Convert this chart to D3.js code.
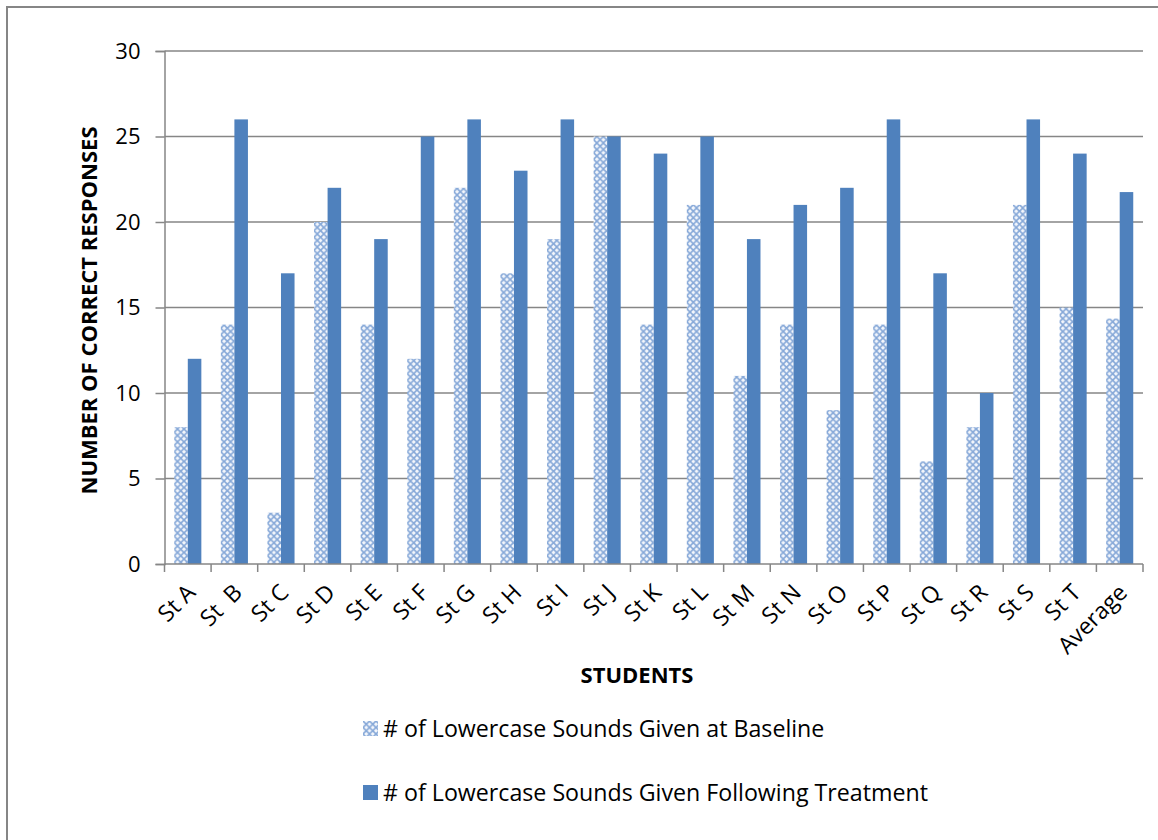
<!DOCTYPE html>
<html>
<head>
<meta charset="utf-8">
<script src="https://cdn.jsdelivr.net/npm/d3@7"></script>
<style>
  html, body { margin: 0; padding: 0; background: #fff; }
  svg { display: block; font-family: "Open Sans", Lato, sans-serif; }
</style>
</head>
<body>
<svg id="chart" width="1158" height="840"></svg>
<script>
// Students and their lowercase letter-sound scores
const students = ["St A", "St  B", "St C", "St D", "St E", "St F", "St G", "St H", "St I", "St J",
                  "St K", "St L", "St M", "St N", "St O", "St P", "St Q", "St R", "St S", "St T", "Average"];
const baseline  = [8, 14, 3, 20, 14, 12, 22, 17, 19, 25, 14, 21, 11, 14, 9, 14, 6, 8, 21, 15, 14.35];
const treatment = [12, 26, 17, 22, 19, 25, 26, 23, 26, 25, 24, 25, 19, 21, 22, 26, 17, 10, 26, 24, 21.75];
const yTicks = [0, 5, 10, 15, 20, 25, 30];
const seriesNames = ["# of Lowercase Sounds Given at Baseline",
                     "# of Lowercase Sounds Given Following Treatment"];

const svg = d3.select("#chart");
const plot = { left: 164.5, right: 1143, top: 51, bottom: 564 };
const solidBlue = "#4f81bd";
const gridColor = "#868686";

// Outer chart frame
svg.append("rect")
  .attr("x", 7).attr("y", 7).attr("width", 1170).attr("height", 860)
  .attr("fill", "none").attr("stroke", gridColor).attr("stroke-width", 2);

// Cross-hatch pattern for the baseline series
const defs = svg.append("defs");
const pat = defs.append("pattern")
  .attr("id", "hatch").attr("patternUnits", "userSpaceOnUse")
  .attr("width", 6.5).attr("height", 6.5);
pat.append("rect").attr("width", 6.5).attr("height", 6.5).attr("fill", "#f4f7fc");
pat.append("path").attr("d", "M0,0 L6.5,6.5 M6.5,0 L0,6.5")
  .attr("stroke", "#86a8d8").attr("stroke-width", 1.6);

const x = d3.scaleBand().domain(students).range([plot.left, plot.right]).paddingInner(0).paddingOuter(0);
const inner = d3.scaleBand().domain([0, 1]).range([0, x.bandwidth()]).paddingInner(0).paddingOuter(0.72);
const y = d3.scaleLinear().domain([0, 30]).range([plot.bottom, plot.top]);

// Horizontal gridlines and y axis
const yAxis = d3.axisLeft(y).tickValues(yTicks).tickSize(9).tickPadding(15);
const gy = svg.append("g").attr("transform", `translate(${plot.left},0)`).call(yAxis);
gy.select(".domain").attr("stroke", gridColor).attr("stroke-width", 1.5);
gy.selectAll(".tick line").attr("stroke", gridColor).attr("stroke-width", 1.5);
gy.selectAll(".tick text").attr("font-size", 22).attr("fill", "#000")
  .attr("font-family", "'Open Sans', sans-serif");

svg.append("g").selectAll("line").data(yTicks.filter(d => d > 0)).join("line")
  .attr("x1", plot.left).attr("x2", plot.right)
  .attr("y1", d => y(d)).attr("y2", d => y(d))
  .attr("stroke", gridColor).attr("stroke-width", 1.5);

// Bars
const groups = svg.append("g").selectAll("g").data(students).join("g")
  .attr("transform", d => `translate(${x(d)},0)`);
groups.append("rect")
  .attr("x", inner(0)).attr("width", inner.bandwidth())
  .attr("y", (d, i) => y(baseline[i])).attr("height", (d, i) => y(0) - y(baseline[i]))
  .attr("fill", "url(#hatch)");
groups.append("rect")
  .attr("x", inner(1)).attr("width", inner.bandwidth())
  .attr("y", (d, i) => y(treatment[i])).attr("height", (d, i) => y(0) - y(treatment[i]))
  .attr("fill", solidBlue);

// X axis with tick marks at category boundaries
const gx = svg.append("g").attr("transform", `translate(0,${plot.bottom})`);
gx.append("line").attr("x1", plot.left).attr("x2", plot.right)
  .attr("stroke", gridColor).attr("stroke-width", 1.5);
const bounds = students.map(d => x(d)).concat([plot.right]);
gx.selectAll("line.tk").data(bounds).join("line").attr("class", "tk")
  .attr("x1", d => d).attr("x2", d => d).attr("y1", 0).attr("y2", 8)
  .attr("stroke", gridColor).attr("stroke-width", 1.5);
gx.selectAll("text").data(students).join("text")
  .attr("transform", d => `translate(${x(d) + x.bandwidth() / 2 + 9},${30}) rotate(-45)`)
  .attr("text-anchor", "end")
  .attr("font-size", 23)
  .style("white-space", "pre")
  .text(d => d);

// Axis titles
svg.append("text")
  .attr("transform", `translate(97,${(plot.top + plot.bottom) / 2 + 3}) rotate(-90)`)
  .attr("text-anchor", "middle").attr("font-weight", "bold").attr("font-size", 22)
  .text("NUMBER OF CORRECT RESPONSES");
svg.append("text")
  .attr("x", 637).attr("y", 683)
  .attr("text-anchor", "middle").attr("font-weight", "bold").attr("font-size", 22)
  .text("STUDENTS");

// Legend
const legend = svg.append("g").selectAll("g").data(seriesNames).join("g")
  .attr("transform", (d, i) => `translate(363,${721 + i * 64})`);
legend.append("rect").attr("width", 15).attr("height", 15)
  .attr("fill", (d, i) => i === 0 ? "url(#hatch)" : solidBlue);
legend.append("text").attr("x", 20).attr("y", 16).attr("font-size", 23.2).text(d => d);
</script>
</body>
</html>
